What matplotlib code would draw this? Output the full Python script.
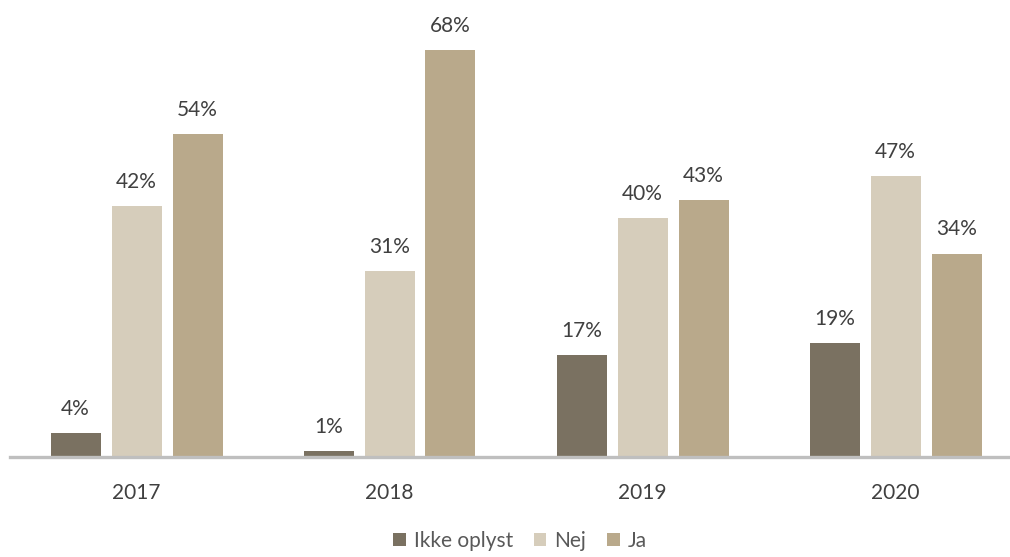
import matplotlib
matplotlib.use("Agg")
import matplotlib.pyplot as plt
import numpy as np

years = ["2017", "2018", "2019", "2020"]
series_names = ["Ikke oplyst", "Nej", "Ja"]
ikke_oplyst = [4, 1, 17, 19]
nej = [42, 31, 40, 47]
ja = [54, 68, 43, 34]
colors = ["#7A7161", "#D6CDBB", "#B9A98B"]

plt.rcParams["font.family"] = ["Lato", "DejaVu Sans"]

W, H = 1010, 557
fig = plt.figure(figsize=(W / 100, H / 100), dpi=100)
px_per_pct = 5.985
ymax = 75
ax = fig.add_axes([10 / W, 100 / H, 1012 / W, ymax * px_per_pct / H])

x = np.arange(len(years))
width = 50 / 253
step = 61 / 253
for i, (name, vals, col) in enumerate(zip(series_names, [ikke_oplyst, nej, ja], colors)):
    pos = x + (i - 1) * step
    ax.bar(pos, vals, width, color=col, label=name, zorder=2)
    for xp, v in zip(pos, vals):
        ax.annotate(f"{v}%", (xp, v), xytext=(0, 13), textcoords="offset points",
                    ha="center", va="baseline", fontsize=15, color="#404040")

ax.set_xlim(-0.5, 3.5)
ax.set_ylim(0, ymax)
ax.set_xticks(x)
ax.set_xticklabels(years, fontsize=15, color="#404040")
ax.tick_params(axis="x", length=0, pad=19)
ax.set_yticks([])
for s in ["top", "right", "left"]:
    ax.spines[s].set_visible(False)
ax.spines["bottom"].set_color("#BFBFBF")
ax.spines["bottom"].set_linewidth(2.4)
ax.spines["bottom"].set_zorder(3)

fig.legend(loc="center", bbox_to_anchor=(520 / W, 1 - 541 / H), ncol=3, frameon=False,
           fontsize=15, handlelength=0.6, handleheight=0.6, handletextpad=0.38,
           columnspacing=1.0, labelcolor="#595959")

fig.savefig("out.png", dpi=100)
